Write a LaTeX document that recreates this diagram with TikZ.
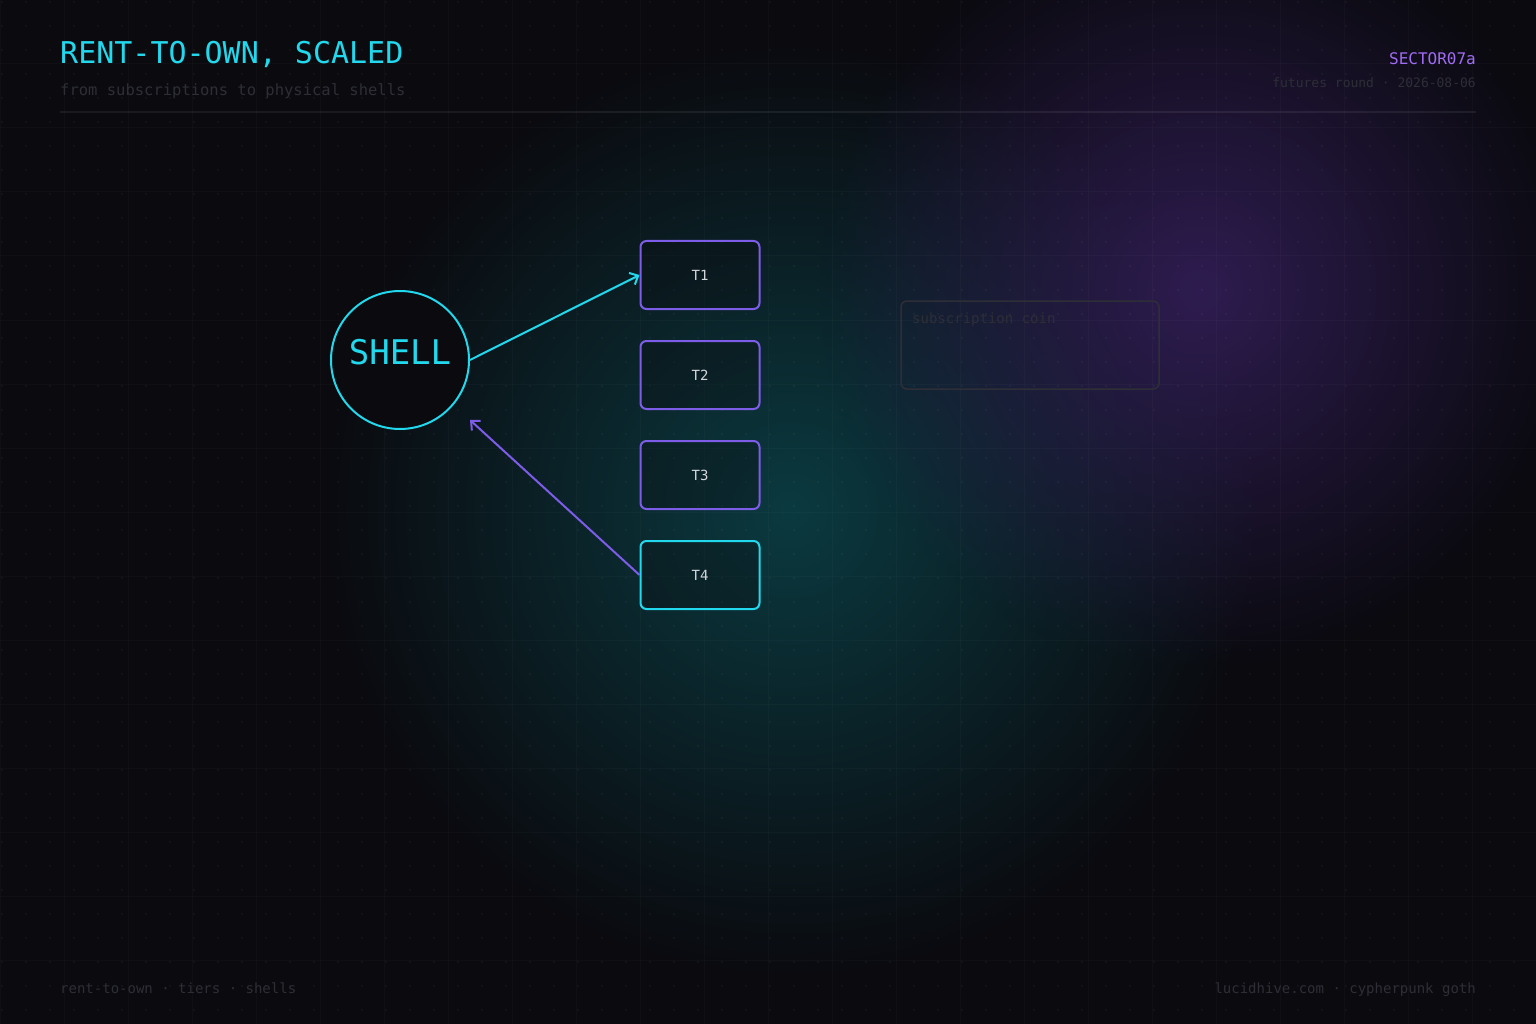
\documentclass[tikz,border=0pt]{standalone}
\usepackage{fontspec}
\setmainfont{DejaVu Sans Mono}
\usetikzlibrary{positioning, arrows.meta, fadings}
\definecolor{bgdark}{HTML}{0A0A0F}
\definecolor{cyanline}{HTML}{22D8EC}
\definecolor{violetline}{HTML}{7D5CE8}
\definecolor{violettext}{HTML}{A06CF2}
\definecolor{dimtext}{HTML}{2E2E37}
\definecolor{boxtext}{HTML}{D4D6DC}
\definecolor{tealglow}{HTML}{0B3A40}
\definecolor{purpleglow}{HTML}{2E1C50}
\tikzfading[name=glowfade, inner color=transparent!0, outer color=transparent!100]
\tikzstyle{tier} = [rectangle, draw=violetline, line width=2pt, fill=bgdark, fill opacity=0.3, draw opacity=1, text opacity=1, rounded corners=6pt, minimum width=119pt, minimum height=68pt, text=boxtext, font=\fontsize{14}{16}\selectfont]
\tikzstyle{hub} = [circle, draw=cyanline, line width=2pt, fill=bgdark, minimum size=138pt, inner sep=0pt, text depth=16pt, text=cyanline, font=\fontsize{34}{40}\selectfont]
\tikzstyle{note} = [rectangle, draw=dimtext, line width=1.5pt, rounded corners=6pt, minimum width=258pt, minimum height=88pt]
\tikzstyle{dim} = [text=dimtext, inner sep=0pt]
\tikzstyle{line} = [draw, line width=2pt, -{Straight Barb[length=7pt, width=13pt, line width=2pt]}]

\begin{document}
\begin{tikzpicture}[x=1pt, y=-1pt, node distance = 30pt]
    % Background and glows
    \fill[bgdark] (0,0) rectangle (1536,1024);
    \useasboundingbox (0,0) rectangle (1536,1024);
    \fill[tealglow, path fading=glowfade] (790,510) circle[radius=470pt];
    \fill[purpleglow, path fading=glowfade] (1200,290) circle[radius=380pt];
    % Grid
    \foreach \gx in {0,64,...,1536} \draw[white, opacity=0.025, line width=1pt] (\gx,0) -- (\gx,1024);
    \foreach \gy in {0,64,...,1024} \draw[white, opacity=0.025, line width=1pt] (0,\gy) -- (1536,\gy);
    \foreach \gx in {2,26,...,1536} \foreach \gy in {2,26,...,1024} \fill[white, opacity=0.035] (\gx-1,\gy-1) rectangle (\gx+1,\gy+1);
    % Header
    \node [anchor=base west, inner sep=0pt, text=cyanline, font=\fontsize{30}{36}\selectfont] (title) at (60,64) {RENT-TO-OWN, SCALED};
    \node [dim, anchor=base west, font=\fontsize{15.5}{18}\selectfont] (subtitle) at (60,96) {from subscriptions to physical shells};
    \node [anchor=base east, inner sep=0pt, text=violettext, font=\fontsize{16}{18}\selectfont] (sector) at (1476,65) {SECTOR07a};
    \node [dim, anchor=base east, font=\fontsize{13}{15}\selectfont] (round) at (1476,88) {futures round · 2026-08-06};
    \coordinate (ruleL) at (60,112);
    \coordinate (ruleR) at (1476,112);
    \draw[white, opacity=0.07, line width=1.5pt] (ruleL) -- (ruleR);
    % Place nodes
    \node [hub] (shell) at (400,360) {SHELL};
    \node [tier] (t1) at (700,275) {T1};
    \node [tier, below=of t1] (t2) {T2};
    \node [tier, below=of t2] (t3) {T3};
    \node [tier, below=of t3, draw=cyanline] (t4) {T4};
    \node [note] (coin) at (1030,345) {};
    \node [dim, anchor=base west, font=\fontsize{14}{16}\selectfont] (coinlabel) at (912,323) {subscription coin};
    \coordinate (shellback) at (470,420);
    % Draw edges
    \path [line, cyanline] (shell.east) -- (t1.west);
    \path [line, violetline] (t4.west) -- (shellback);
    % Footer
    \node [dim, anchor=base west, font=\fontsize{14}{16}\selectfont] (footL) at (60,993) {rent-to-own · tiers · shells};
    \node [dim, anchor=base east, font=\fontsize{14}{16}\selectfont] (footR) at (1476,993) {lucidhive.com · cypherpunk goth};
\end{tikzpicture}
\end{document}
